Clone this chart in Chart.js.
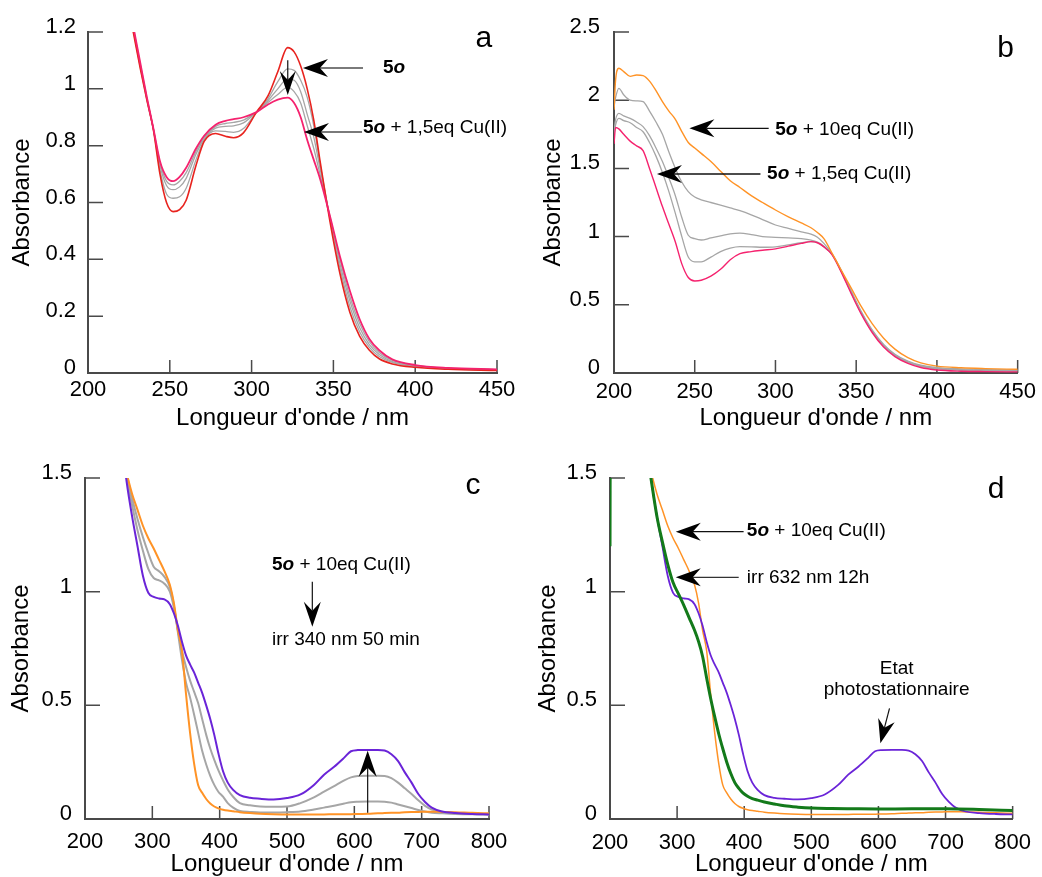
<!DOCTYPE html>
<html>
<head>
<meta charset="utf-8">
<script src="https://cdn.jsdelivr.net/npm/chart.js@4.4.1/dist/chart.umd.min.js"></script>
<style>
  html, body { margin: 0; padding: 0; background: #fff; overflow: hidden; width: 1042px; height: 877px; }
  canvas { position: absolute; }
</style>
</head>
<body>
<canvas id="chartA" width="520" height="440" style="left:0;top:0"></canvas>
<canvas id="chartB" width="522" height="440" style="left:520px;top:0"></canvas>
<canvas id="chartC" width="520" height="445" style="left:0;top:440px"></canvas>
<canvas id="chartD" width="522" height="445" style="left:520px;top:440px"></canvas>
<script>
// --- Panel a : 5o + Cu(II) titration (200-450 nm) ---
const aWl = [225, 228, 232, 236, 240, 244, 248, 252, 256, 260, 266, 271, 278, 284, 289, 295, 303, 310, 316, 322, 326, 330, 334, 338, 342, 348, 354, 360, 366, 372, 378, 386, 400, 420, 450];
const aRed = [1.28, 1.19, 1.07, 0.96, 0.855, 0.70, 0.60, 0.568, 0.575, 0.608, 0.73, 0.815, 0.843, 0.833, 0.828, 0.845, 0.918, 0.975, 1.06, 1.145, 1.13, 1.08, 1.0, 0.89, 0.74, 0.53, 0.35, 0.215, 0.13, 0.08, 0.05, 0.032, 0.02, 0.013, 0.009];
const aGray1 = [1.285, 1.195, 1.075, 0.96, 0.855, 0.715, 0.63, 0.615, 0.62, 0.65, 0.75, 0.82, 0.852, 0.85, 0.847, 0.86, 0.918, 0.965, 1.025, 1.07, 1.065, 1.03, 0.97, 0.87, 0.73, 0.54, 0.37, 0.235, 0.145, 0.09, 0.058, 0.037, 0.023, 0.015, 0.01];
const aGray2 = [1.29, 1.2, 1.08, 0.965, 0.857, 0.73, 0.66, 0.645, 0.655, 0.685, 0.77, 0.825, 0.862, 0.868, 0.87, 0.88, 0.918, 0.958, 1.0, 1.035, 1.03, 0.99, 0.91, 0.83, 0.715, 0.545, 0.385, 0.255, 0.16, 0.10, 0.065, 0.04, 0.025, 0.016, 0.011];
const aGray3 = [1.295, 1.205, 1.085, 0.968, 0.858, 0.74, 0.675, 0.662, 0.675, 0.705, 0.78, 0.83, 0.868, 0.878, 0.882, 0.89, 0.918, 0.952, 0.98, 1.005, 0.99, 0.95, 0.87, 0.79, 0.695, 0.548, 0.40, 0.27, 0.175, 0.11, 0.072, 0.044, 0.027, 0.017, 0.012];
const aPink = [1.30, 1.21, 1.09, 0.97, 0.86, 0.745, 0.69, 0.675, 0.69, 0.722, 0.79, 0.835, 0.874, 0.887, 0.893, 0.90, 0.918, 0.945, 0.962, 0.969, 0.95, 0.90, 0.82, 0.75, 0.68, 0.55, 0.41, 0.29, 0.19, 0.12, 0.08, 0.048, 0.028, 0.018, 0.013];

// --- Panel b : up to 10 eq Cu(II) ---
const bWl = [200, 201, 203, 206, 210, 214, 218, 222, 226, 230, 234, 238, 242, 246, 250, 254, 260, 266, 272, 278, 285, 292, 300, 308, 316, 322, 326, 330, 335, 340, 347, 353, 360, 367, 374, 382, 390, 400, 415, 430, 450];
const bOrange = [1.93, 2.15, 2.234, 2.21, 2.175, 2.185, 2.18, 2.14, 2.07, 1.99, 1.92, 1.86, 1.77, 1.69, 1.65, 1.61, 1.55, 1.48, 1.41, 1.36, 1.30, 1.25, 1.195, 1.145, 1.10, 1.065, 1.03, 0.985, 0.88, 0.77, 0.62, 0.49, 0.36, 0.255, 0.175, 0.112, 0.074, 0.05, 0.038, 0.032, 0.027];
const bGray1 = [1.95, 2.02, 2.087, 2.04, 2.0, 1.995, 1.99, 1.92, 1.84, 1.75, 1.62, 1.50, 1.40, 1.33, 1.29, 1.27, 1.25, 1.23, 1.21, 1.19, 1.16, 1.125, 1.085, 1.06, 1.035, 1.018, 0.995, 0.95, 0.875, 0.77, 0.60, 0.455, 0.315, 0.21, 0.138, 0.088, 0.057, 0.04, 0.03, 0.025, 0.022];
const bGray2 = [1.78, 1.86, 1.904, 1.885, 1.867, 1.84, 1.806, 1.74, 1.65, 1.55, 1.43, 1.30, 1.14, 1.01, 0.985, 0.975, 0.99, 1.005, 1.02, 1.025, 1.015, 1.0, 0.995, 0.99, 0.985, 0.975, 0.96, 0.93, 0.872, 0.765, 0.59, 0.447, 0.308, 0.203, 0.131, 0.081, 0.052, 0.034, 0.024, 0.02, 0.018];
const bGray3 = [1.75, 1.82, 1.867, 1.85, 1.835, 1.80, 1.769, 1.69, 1.59, 1.47, 1.33, 1.17, 1.0, 0.85, 0.815, 0.815, 0.85, 0.89, 0.915, 0.926, 0.925, 0.922, 0.925, 0.94, 0.955, 0.963, 0.955, 0.925, 0.87, 0.762, 0.587, 0.443, 0.303, 0.199, 0.127, 0.077, 0.048, 0.03, 0.02, 0.016, 0.014];
const bPink = [1.68, 1.80, 1.79, 1.75, 1.70, 1.665, 1.63, 1.50, 1.36, 1.22, 1.09, 0.96, 0.80, 0.70, 0.675, 0.68, 0.71, 0.76, 0.83, 0.875, 0.89, 0.90, 0.91, 0.93, 0.95, 0.963, 0.955, 0.925, 0.868, 0.758, 0.58, 0.435, 0.295, 0.19, 0.12, 0.07, 0.04, 0.022, 0.013, 0.01, 0.008];

// --- Panels c and d : 5o + 10 eq Cu(II), irradiation (200-800 nm) ---
const cWl = [255, 262, 270, 278, 286, 294, 302, 310, 318, 326, 332, 338, 344, 350, 356, 362, 368, 374, 380, 386, 392, 398, 405, 412, 420, 430, 445, 460, 480, 500, 520, 540, 555, 570, 585, 595, 605, 620, 635, 645, 655, 665, 675, 685, 695, 705, 715, 730, 750, 775, 800];
const cOrange = [1.62, 1.52, 1.43, 1.36, 1.29, 1.235, 1.19, 1.14, 1.09, 1.03, 0.95, 0.83, 0.74, 0.55, 0.38, 0.245, 0.15, 0.115, 0.088, 0.068, 0.055, 0.047, 0.041, 0.037, 0.034, 0.03, 0.026, 0.023, 0.021, 0.02, 0.02, 0.02, 0.02, 0.021, 0.021, 0.021, 0.022, 0.023, 0.025, 0.026, 0.027, 0.028, 0.03, 0.031, 0.031, 0.032, 0.032, 0.031, 0.03, 0.027, 0.025];
const cGrayA = [1.64, 1.52, 1.41, 1.32, 1.24, 1.17, 1.11, 1.09, 1.065, 1.02, 0.94, 0.82, 0.70, 0.60, 0.535, 0.46, 0.38, 0.30, 0.24, 0.19, 0.15, 0.12, 0.098, 0.07, 0.05, 0.035, 0.031, 0.029, 0.029, 0.03, 0.033, 0.042, 0.05, 0.058, 0.068, 0.074, 0.076, 0.077, 0.077, 0.076, 0.072, 0.064, 0.056, 0.048, 0.04, 0.033, 0.028, 0.025, 0.022, 0.021, 0.02];
const cGrayB = [1.64, 1.50, 1.38, 1.27, 1.18, 1.10, 1.06, 1.05, 1.035, 1.0, 0.93, 0.83, 0.74, 0.67, 0.61, 0.56, 0.51, 0.44, 0.37, 0.31, 0.26, 0.215, 0.17, 0.13, 0.098, 0.07, 0.06, 0.055, 0.054, 0.055, 0.07, 0.095, 0.12, 0.145, 0.17, 0.183, 0.189, 0.19, 0.19, 0.189, 0.18, 0.16, 0.135, 0.11, 0.082, 0.058, 0.042, 0.032, 0.025, 0.022, 0.02];
const cPurple = [1.65, 1.48, 1.33, 1.20, 1.07, 0.995, 0.977, 0.97, 0.966, 0.945, 0.905, 0.85, 0.78, 0.72, 0.68, 0.645, 0.60, 0.555, 0.50, 0.44, 0.37, 0.29, 0.21, 0.16, 0.128, 0.105, 0.093, 0.089, 0.086, 0.092, 0.108, 0.15, 0.195, 0.23, 0.27, 0.298, 0.303, 0.304, 0.304, 0.301, 0.285, 0.255, 0.205, 0.16, 0.11, 0.075, 0.05, 0.033, 0.026, 0.022, 0.02];
const dGreenWl = [200, 200.5, 230, 257, 261, 270, 278, 286, 294, 302, 310, 318, 326, 332, 338, 344, 350, 356, 362, 368, 374, 380, 386, 392, 398, 405, 412, 420, 430, 445, 460, 480, 500, 530, 560, 600, 650, 700, 750, 800];
const dGreen = [1.2, 1.8, 2.2, 1.58, 1.5, 1.33, 1.22, 1.12, 1.04, 0.99, 0.94, 0.885, 0.83, 0.78, 0.715, 0.62, 0.53, 0.45, 0.375, 0.31, 0.25, 0.20, 0.16, 0.135, 0.115, 0.10, 0.09, 0.083, 0.075, 0.066, 0.058, 0.052, 0.048, 0.046, 0.045, 0.044, 0.045, 0.045, 0.042, 0.037];

const FONT = '"Liberation Sans", Arial, Helvetica, sans-serif';
const AXIS = '#4a4a4a';
const RED = '#e8231e', PINK = '#f5226e', GRAY = '#a6a6a6', ORANGE = '#ff9326', PURPLE = '#6a24d8', GREEN = '#137a1a';

function pts(xs, ys) {
    return xs.map((x, i) => ({ x: x, y: ys[i] }));
}

function line(label, xs, ys, color, width) {
    return {
        label: label,
        data: pts(xs, ys),
        borderColor: color,
        borderWidth: width,
        pointRadius: 0,
        fill: false,
        cubicInterpolationMode: 'monotone'
    };
}

// --- Annotations (arrows / texts) in data units ---
const FO = { text: '5', bold: true };
const OI = { text: 'o', bold: true, italic: true };
const ANNOT = {
    chartA: [
        { type: 'arrow', x1: 368.1, y1: 1.073, x2: 331.4, y2: 1.073, color: '#7a7a7a', lw: 2 },
        { type: 'text', x: 380.3, y: 1.073, parts: [FO, OI] },
        { type: 'arrow', x1: 367.5, y1: 0.848, x2: 332.0, y2: 0.848, color: '#7a7a7a', lw: 2 },
        { type: 'text', x: 368.1, y: 0.862, parts: [FO, OI, { text: ' + 1,5eq Cu(II)' }] },
        { type: 'arrow', x1: 322.1, y1: 1.101, x2: 322.1, y2: 0.978, color: '#111', lw: 1.2, head: [24, 8, 15] },
        { type: 'letter', x: 442, y: 1.147, text: 'a' }
    ],
    chartB: [
        { type: 'arrow', x1: 295.8, y1: 1.794, x2: 246.7, y2: 1.794, color: '#111', lw: 1.3 },
        { type: 'text', x: 299.9, y: 1.782, parts: [FO, OI, { text: ' + 10eq Cu(II)' }] },
        { type: 'arrow', x1: 290.7, y1: 1.459, x2: 226.6, y2: 1.459, color: '#111', lw: 1.3 },
        { type: 'text', x: 294.8, y: 1.464, parts: [FO, OI, { text: ' + 1,5eq Cu(II)' }] },
        { type: 'letter', x: 442.6, y: 2.317, text: 'b' }
    ],
    chartC: [
        { type: 'text', x: 477.7, y: 1.117, parts: [FO, OI, { text: ' + 10eq Cu(II)' }] },
        { type: 'arrow', x1: 537.6, y1: 1.044, x2: 537.6, y2: 0.846, color: '#111', lw: 1.2, head: [25, 8.5, 16] },
        { type: 'text', x: 477.7, y: 0.787, parts: [{ text: 'irr 340 nm 50 min' }] },
        { type: 'arrow', x1: 619.8, y1: 0.028, x2: 619.8, y2: 0.30, color: '#111', lw: 1.2, head: [26, 9, 17] },
        { type: 'letter', x: 776.3, y: 1.43, text: 'c' }
    ],
    chartD: [
        { type: 'arrow', x1: 399.1, y1: 1.264, x2: 298, y2: 1.264, color: '#111', lw: 1.3 },
        { type: 'text', x: 403.9, y: 1.27, parts: [FO, OI, { text: ' + 10eq Cu(II)' }] },
        { type: 'arrow', x1: 391.8, y1: 1.063, x2: 298, y2: 1.063, color: '#333', lw: 1.3 },
        { type: 'text', x: 403.9, y: 1.059, parts: [{ text: 'irr 632 nm 12h' }] },
        { type: 'text', x: 627.1, y: 0.663, align: 'center', parts: [{ text: 'Etat' }] },
        { type: 'text', x: 627.1, y: 0.567, align: 'center', parts: [{ text: 'photostationnaire' }] },
        { type: 'arrow', x1: 616.5, y1: 0.487, x2: 602.9, y2: 0.333, color: '#111', lw: 1.2, head: [24, 8.5, 16] },
        { type: 'letter', x: 775.2, y: 1.412, text: 'd' }
    ]
};

function partFont(p) {
    return (p.italic ? 'italic ' : '') + (p.bold ? 'bold ' : '') + '19px ' + FONT;
}

function drawArrow(ctx, x1, y1, x2, y2, color, lw, head) {
    const [L, W, N] = head || [25, 9, 17];
    const ang = Math.atan2(y2 - y1, x2 - x1);
    const bx = x2 - Math.cos(ang) * N, by = y2 - Math.sin(ang) * N;
    ctx.strokeStyle = color;
    ctx.lineWidth = lw;
    ctx.beginPath();
    ctx.moveTo(x1, y1);
    ctx.lineTo(bx, by);
    ctx.stroke();
    ctx.save();
    ctx.translate(x2, y2);
    ctx.rotate(ang);
    ctx.fillStyle = '#000';
    ctx.beginPath();
    ctx.moveTo(0, 0);
    ctx.lineTo(-L, -W);
    ctx.lineTo(-N, 0);
    ctx.lineTo(-L, W);
    ctx.closePath();
    ctx.fill();
    ctx.restore();
}

const annotPlugin = {
    id: 'annot',
    afterDatasetsDraw(chart) {
        const items = ANNOT[chart.canvas.id] || [];
        const { ctx, scales: { x, y } } = chart;
        ctx.save();
        items.forEach(it => {
            if (it.type === 'arrow') {
                drawArrow(ctx, x.getPixelForValue(it.x1), y.getPixelForValue(it.y1),
                    x.getPixelForValue(it.x2), y.getPixelForValue(it.y2), it.color, it.lw, it.head);
            } else if (it.type === 'text') {
                let px = x.getPixelForValue(it.x);
                const py = y.getPixelForValue(it.y);
                ctx.textBaseline = 'middle';
                ctx.textAlign = 'left';
                ctx.fillStyle = '#000';
                if (it.align === 'center') {
                    let w = 0;
                    it.parts.forEach(p => { ctx.font = partFont(p); w += ctx.measureText(p.text).width; });
                    px -= w / 2;
                }
                it.parts.forEach(p => {
                    ctx.font = partFont(p);
                    ctx.fillText(p.text, px, py);
                    px += ctx.measureText(p.text).width;
                });
            } else if (it.type === 'letter') {
                ctx.font = '30px ' + FONT;
                ctx.fillStyle = '#000';
                ctx.textAlign = 'center';
                ctx.textBaseline = 'alphabetic';
                ctx.fillText(it.text, x.getPixelForValue(it.x), y.getPixelForValue(it.y));
            }
        });
        ctx.restore();
    }
};

// inward tick marks, like the original plots
const tickPlugin = {
    id: 'inTicks',
    beforeDatasetsDraw(chart) {
        const { ctx, chartArea, scales: { x, y } } = chart;
        const cfg = chart.options.plugins.inTicks;
        ctx.save();
        ctx.strokeStyle = AXIS;
        ctx.lineWidth = 1.5;
        ctx.beginPath();
        x.ticks.forEach(t => {
            const px = x.getPixelForValue(t.value);
            ctx.moveTo(px, chartArea.bottom);
            ctx.lineTo(px, chartArea.bottom - cfg.x);
        });
        y.ticks.forEach(t => {
            const py = y.getPixelForValue(t.value);
            ctx.moveTo(chartArea.left, py);
            ctx.lineTo(chartArea.left + cfg.y, py);
        });
        ctx.stroke();
        ctx.restore();
    }
};

const fmt = v => String(+Number(v).toFixed(2));

function makeChart(id, datasets, ax) {
    return new Chart(document.getElementById(id), {
        type: 'line',
        data: { datasets: datasets },
        plugins: [tickPlugin, annotPlugin],
        options: {
            responsive: false,
            animation: false,
            devicePixelRatio: 1,
            layout: { padding: ax.pad },
            plugins: {
                legend: { display: false },
                tooltip: { enabled: false },
                inTicks: { x: 13, y: 15 }
            },
            scales: {
                x: {
                    type: 'linear',
                    min: ax.xMin, max: ax.xMax,
                    ticks: { stepSize: ax.xStep, autoSkip: false, maxRotation: 0, padding: ax.xTickPad, color: '#000', font: { size: 22, family: FONT }, callback: fmt },
                    grid: { display: false, drawTicks: false },
                    border: { display: true, color: AXIS, width: 2 },
                    title: { display: true, text: "Longueur d'onde / nm", color: '#000', font: { size: 24, family: FONT }, padding: { top: 0, bottom: ax.xTitlePad } },
                    afterFit: s => { s.height = ax.xHeight; }
                },
                y: {
                    min: ax.yMin, max: ax.yMax,
                    ticks: { stepSize: ax.yStep, padding: ax.yTickPad, labelOffset: -5, color: '#000', font: { size: 22, family: FONT }, callback: fmt },
                    grid: { display: false, drawTicks: false },
                    border: { display: true, color: AXIS, width: 2 },
                    title: { display: true, text: 'Absorbance', color: '#000', font: { size: 24, family: FONT }, padding: { top: ax.yTitlePad, bottom: 0 } },
                    afterFit: s => { s.width = ax.yWidth; }
                }
            }
        }
    });
}

document.addEventListener('DOMContentLoaded', () => {
    makeChart('chartA', [
        line('5o + 1,5eq Cu(II)', aWl, aPink, PINK, 1.8),
        line('5o', aWl, aRed, RED, 1.6),
        line('g3', aWl, aGray3, GRAY, 1.3),
        line('g2', aWl, aGray2, GRAY, 1.3),
        line('g1', aWl, aGray1, GRAY, 1.3)
    ], { xMin: 200, xMax: 450, xStep: 50, yMin: 0, yMax: 1.2, yStep: 0.2,
         pad: { left: 0, top: 32, right: 23, bottom: 0 }, yWidth: 88, xHeight: 67,
         yTickPad: 12, yTitlePad: 7.6, xTickPad: 4, xTitlePad: 7.6 });

    makeChart('chartB', [
        line('5o + 10eq Cu(II)', bWl, bOrange, ORANGE, 1.4),
        line('5o + 1,5eq Cu(II)', bWl, bPink, PINK, 1.4),
        line('g3', bWl, bGray3, GRAY, 1.3),
        line('g2', bWl, bGray2, GRAY, 1.3),
        line('g1', bWl, bGray1, GRAY, 1.3)
    ], { xMin: 200, xMax: 450, xStep: 50, yMin: 0, yMax: 2.5, yStep: 0.5,
         pad: { left: 0, top: 32, right: 21, bottom: 0 }, yWidth: 94, xHeight: 67,
         yTickPad: 14, yTitlePad: 18.6, xTickPad: 6, xTitlePad: 7.6 });

    makeChart('chartC', [
        line('irr 340 nm', cWl, cPurple, PURPLE, 2),
        line('5o + 10eq Cu(II)', cWl, cOrange, ORANGE, 2),
        line('ga', cWl, cGrayA, GRAY, 2),
        line('gb', cWl, cGrayB, GRAY, 2)
    ], { xMin: 200, xMax: 800, xStep: 100, yMin: 0, yMax: 1.5, yStep: 0.5,
         pad: { left: 0, top: 38, right: 31, bottom: 0 }, yWidth: 85, xHeight: 66,
         yTickPad: 13, yTitlePad: 6.6, xTickPad: 10, xTitlePad: 6.6 });

    makeChart('chartD', [
        line('irr 632 nm 12h', dGreenWl, dGreen, GREEN, 3),
        line('Etat photostationnaire', cWl, cPurple, PURPLE, 1.8),
        line('5o + 10eq Cu(II)', cWl, cOrange, ORANGE, 1.5)
    ], { xMin: 200, xMax: 800, xStep: 100, yMin: 0, yMax: 1.5, yStep: 0.5,
         pad: { left: 0, top: 38, right: 20, bottom: 0 }, yWidth: 90, xHeight: 66,
         yTickPad: 13, yTitlePad: 13.6, xTickPad: 11, xTitlePad: 6.6 });
});
</script>
</body>
</html>
